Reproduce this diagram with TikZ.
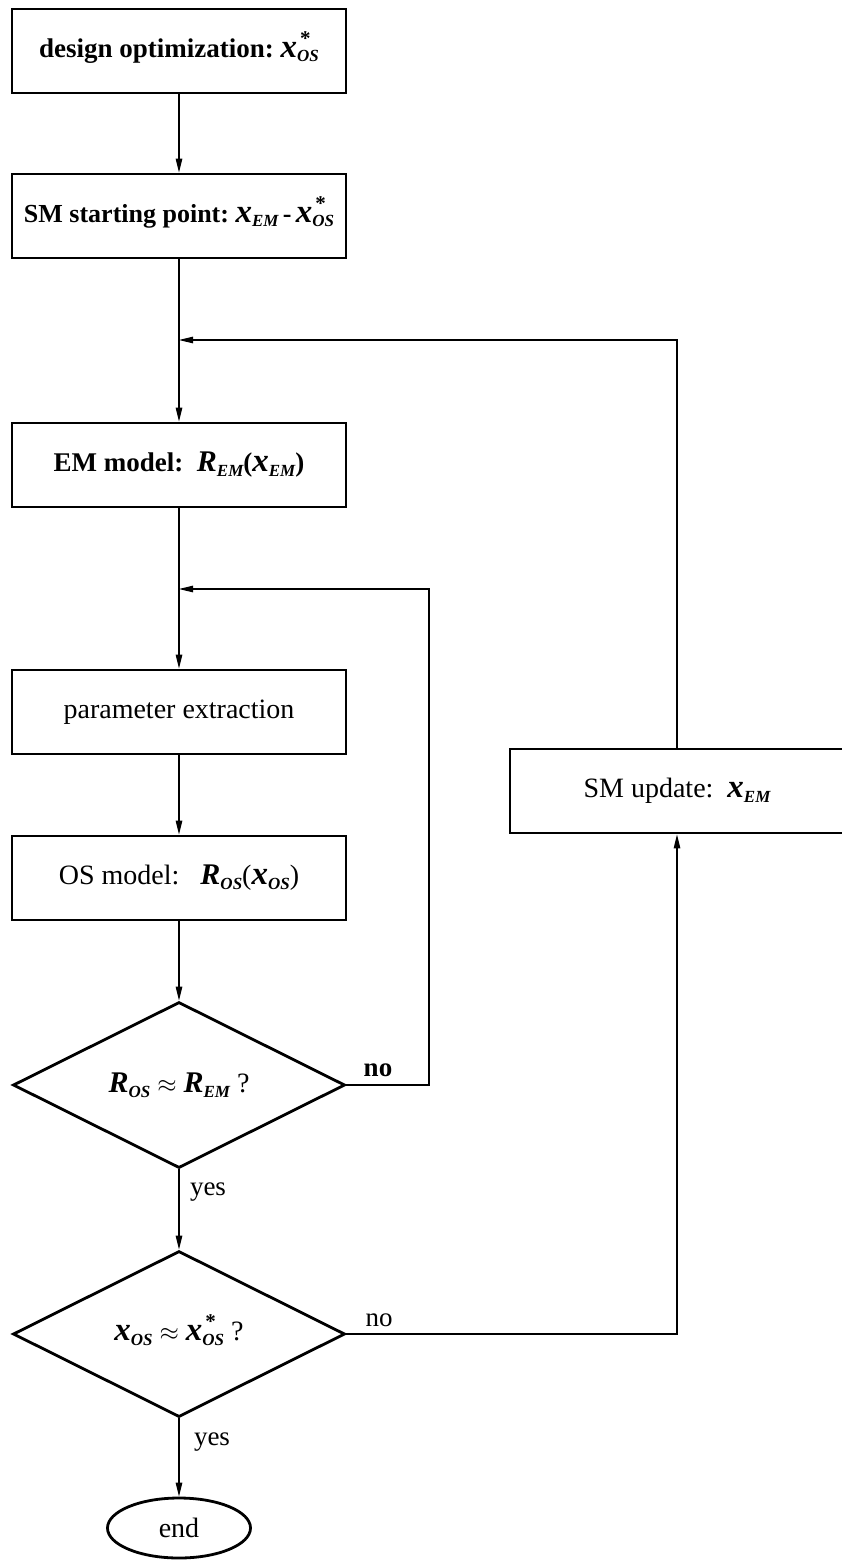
\documentclass[tikz,border=0pt]{standalone}
\usepackage{fontspec}
\setmainfont{Liberation Serif}
\usetikzlibrary{shapes.geometric,arrows.meta}
\newcommand{\mx}{{\fontsize{33}{33}\selectfont\bfseries\itshape x}}
\newcommand{\mR}{{\fontsize{30}{30}\selectfont\bfseries\itshape R}}
\newcommand{\sbs}[1]{\raisebox{-0.35ex}{\fontsize{17}{17}\selectfont\bfseries\itshape #1}}
\newcommand{\sbst}[1]{\rlap{\hspace{3pt}\smash{\raisebox{12pt}{\fontsize{21}{21}\selectfont\bfseries *}}}\sbs{#1}}
\tikzset{
  procbox/.style={draw, line width=2.8pt, minimum width=334pt, minimum height=84pt, inner sep=0pt, font=\fontsize{28}{32}\selectfont},
  decbox/.style={draw, diamond, line width=2.8pt, minimum width=332pt, minimum height=166pt, inner sep=0pt, font=\fontsize{28}{32}\selectfont},
  endbox/.style={draw, ellipse, line width=2.8pt, minimum width=143pt, minimum height=60pt, inner sep=0pt, font=\fontsize{28}{32}\selectfont},
  conn/.style={line width=1.1pt, -{Triangle[length=14pt,width=6.5pt]}},
  lbl/.style={font=\fontsize{27}{30}\selectfont, inner sep=0pt}
}
\begin{document}
\begin{tikzpicture}[x=1pt,y=-1pt]
\useasboundingbox (0,0) rectangle (841,1560);
\node[procbox, font=\fontsize{27}{32}\selectfont\bfseries] (b1) at (179,51) {design optimization:\ \mx\sbst{OS}};
\node[procbox, font=\fontsize{26}{32}\selectfont\bfseries] (b2) at (179,216) {SM starting point:\ \mx\sbs{EM}\,\textbf{-}\,\mx\sbst{OS}};
\node[procbox, font=\fontsize{27}{32}\selectfont\bfseries] (b3) at (179,465) {EM model:\ \ \mR\sbs{EM}(\mx\sbs{EM})};
\node[procbox] (b4) at (179,712) {parameter extraction};
\node[procbox] (b5) at (179,878) {OS model:\ \ \ \mR\sbs{OS}(\mx\sbs{OS})};
\node[decbox] (d1) at (179,1085) {\mR\sbs{OS}\ $\approx$\ \mR\sbs{EM}\ ?};
\node[decbox] (d2) at (179,1334) {\mx\sbs{OS}\ $\approx$\ \mx\sbst{OS}\ ?};
\node[endbox] (e) at (179,1528) {end};
\node[procbox] (sm) at (677,791) {SM update:\ \ \mx\sbs{EM}};
\coordinate (j1) at (179,340);
\coordinate (j2) at (179,589);
\coordinate (r2) at (429,589);
\node[lbl, font=\fontsize{27}{30}\selectfont\bfseries] (no1) at (378,1070) {no};
\node[lbl] (no2) at (379,1320) {no};
\node[lbl] (yes1) at (208,1192) {yes};
\node[lbl] (yes2) at (212,1442) {yes};
\draw[conn] (b1) -- (b2);
\draw[conn] (b2) -- (b3);
\draw[conn] (sm.north) |- (j1);
\draw[conn] (b3) -- (b4);
\draw[conn] (d1.east) -| (r2) -- (j2);
\draw[conn] (b4) -- (b5);
\draw[conn] (b5) -- (d1);
\draw[conn] (d1) -- (d2);
\draw[conn] (d2.east) -| (sm.south);
\draw[conn] (d2) -- (e);
\end{tikzpicture}
\end{document}
